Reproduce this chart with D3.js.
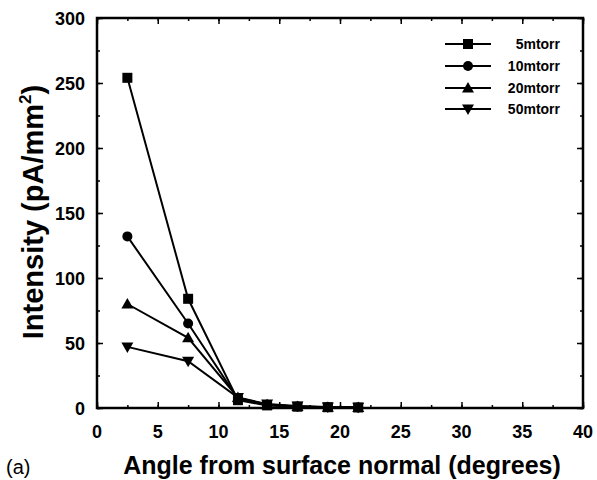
<!DOCTYPE html>
<html>
<head>
<meta charset="utf-8">
<script src="https://cdn.jsdelivr.net/npm/d3@7"></script>
<style>
  body { margin: 0; background: #fff; }
  text { font-family: "Liberation Sans", Arial, sans-serif; }
</style>
</head>
<body>
<div id="graph"></div>
<script>
// data
let angles = [2.5, 7.5, 11.6, 14, 16.5, 19, 21.5];
let series5 = [254, 84, 6, 2, 1, 0.6, 0.4];
let series10 = [132, 65, 7, 2.5, 1.2, 0.6, 0.4];
let series20 = [80, 54, 8, 2.5, 1.2, 0.6, 0.4];
let series50 = [47, 36, 8, 3, 1.5, 0.8, 0.5];
let seriesNames = ["5mtorr", "10mtorr", "20mtorr", "50mtorr"];
let markers = ["square", "circle", "triangle", "down"];
let xTicks = [0, 5, 10, 15, 20, 25, 30, 35, 40];
let yTicks = [0, 50, 100, 150, 200, 250, 300];

let svg = d3.select("#graph").append("svg")
  .attr("width", 597)
  .attr("height", 480);

let pLeft = 97, pRight = 583, pTop = 18, pBottom = 408;

let xScale = d3.scaleLinear().domain([0, 40]).range([pLeft, pRight]);
let yScale = d3.scaleLinear().domain([0, 300]).range([pBottom, pTop]);

// axes, ticks pointing inward
let xMinor = d3.range(0, 40.1, 2.5);
let yMinor = d3.range(0, 300.1, 25);

function tickAxis(axis, scale, vals, size, transform) {
  svg.append("g")
    .attr("transform", transform)
    .call(axis(scale).tickValues(vals).tickSize(size).tickFormat(""))
    .call(g => g.select(".domain").remove())
    .selectAll("line").attr("stroke", "#000").attr("stroke-width", 1.5);
}

let major = -6, minor = -3;
tickAxis(d3.axisBottom, xScale, xMinor, minor, `translate(0,${pBottom})`);
tickAxis(d3.axisBottom, xScale, xTicks, major, `translate(0,${pBottom})`);
tickAxis(d3.axisTop, xScale, xMinor, minor, `translate(0,${pTop})`);
tickAxis(d3.axisTop, xScale, xTicks, major, `translate(0,${pTop})`);
tickAxis(d3.axisLeft, yScale, yMinor, minor, `translate(${pLeft},0)`);
tickAxis(d3.axisLeft, yScale, yTicks, major, `translate(${pLeft},0)`);
tickAxis(d3.axisRight, yScale, yMinor, minor, `translate(${pRight},0)`);
tickAxis(d3.axisRight, yScale, yTicks, major, `translate(${pRight},0)`);

svg.append("rect")
  .attr("x", pLeft).attr("y", pTop)
  .attr("width", pRight - pLeft).attr("height", pBottom - pTop)
  .attr("fill", "none").attr("stroke", "#000").attr("stroke-width", 2.5);

// tick labels
svg.append("g").selectAll("text")
  .data(xTicks).enter().append("text")
  .attr("x", d => xScale(d))
  .attr("y", pBottom + 30)
  .attr("text-anchor", "middle")
  .attr("font-size", 18).attr("font-weight", "bold")
  .text(d => d);

svg.append("g").selectAll("text")
  .data(yTicks).enter().append("text")
  .attr("x", pLeft - 12)
  .attr("y", d => yScale(d) + 6.5)
  .attr("text-anchor", "end")
  .attr("font-size", 18).attr("font-weight", "bold")
  .text(d => d);

// axis titles
svg.append("text")
  .attr("x", 342).attr("y", 474)
  .attr("text-anchor", "middle")
  .attr("font-size", 25).attr("font-weight", "bold")
  .text("Angle from surface normal (degrees)");

svg.append("text")
  .attr("x", 6).attr("y", 474)
  .attr("font-size", 20)
  .text("(a)");

let yt = svg.append("text")
  .attr("transform", "translate(43,212) rotate(-90)")
  .attr("text-anchor", "middle")
  .attr("font-size", 29).attr("font-weight", "bold");
yt.append("tspan").text("Intensity (pA/mm");
yt.append("tspan").attr("font-size", 17).attr("dy", -12).text("2");
yt.append("tspan").attr("dy", 12).text(")");

// markers
function drawMarker(g, type, x, y) {
  let s = 5;
  if (type === "square") {
    g.append("rect").attr("x", x - s).attr("y", y - s)
      .attr("width", 2 * s).attr("height", 2 * s).attr("fill", "#000");
  } else if (type === "circle") {
    g.append("circle").attr("cx", x).attr("cy", y).attr("r", s).attr("fill", "#000");
  } else if (type === "triangle") {
    g.append("path").attr("d", `M${x},${y - 6}L${x + 6},${y + 4.5}L${x - 6},${y + 4.5}Z`).attr("fill", "#000");
  } else {
    g.append("path").attr("d", `M${x},${y + 6}L${x + 6},${y - 4.5}L${x - 6},${y - 4.5}Z`).attr("fill", "#000");
  }
}

let allSeries = [series5, series10, series20, series50];
let line = d3.line()
  .x((d, i) => xScale(angles[i]))
  .y(d => yScale(d));

allSeries.forEach(function (vals, k) {
  let g = svg.append("g");
  g.append("path")
    .attr("d", line(vals))
    .attr("fill", "none")
    .attr("stroke", "#000")
    .attr("stroke-width", 2);
  vals.forEach(function (v, i) {
    drawMarker(g, markers[k], xScale(angles[i]), yScale(v));
  });
});

// legend
let legY = [44, 66, 88, 109];
seriesNames.forEach(function (name, k) {
  let g = svg.append("g");
  g.append("line")
    .attr("x1", 445).attr("x2", 491)
    .attr("y1", legY[k]).attr("y2", legY[k])
    .attr("stroke", "#000").attr("stroke-width", 2);
  drawMarker(g, markers[k], 468, legY[k]);
  g.append("text")
    .attr("x", 560).attr("y", legY[k] + 5)
    .attr("text-anchor", "end")
    .attr("font-size", 14).attr("font-weight", "bold")
    .text(name);
});
</script>
</body>
</html>
